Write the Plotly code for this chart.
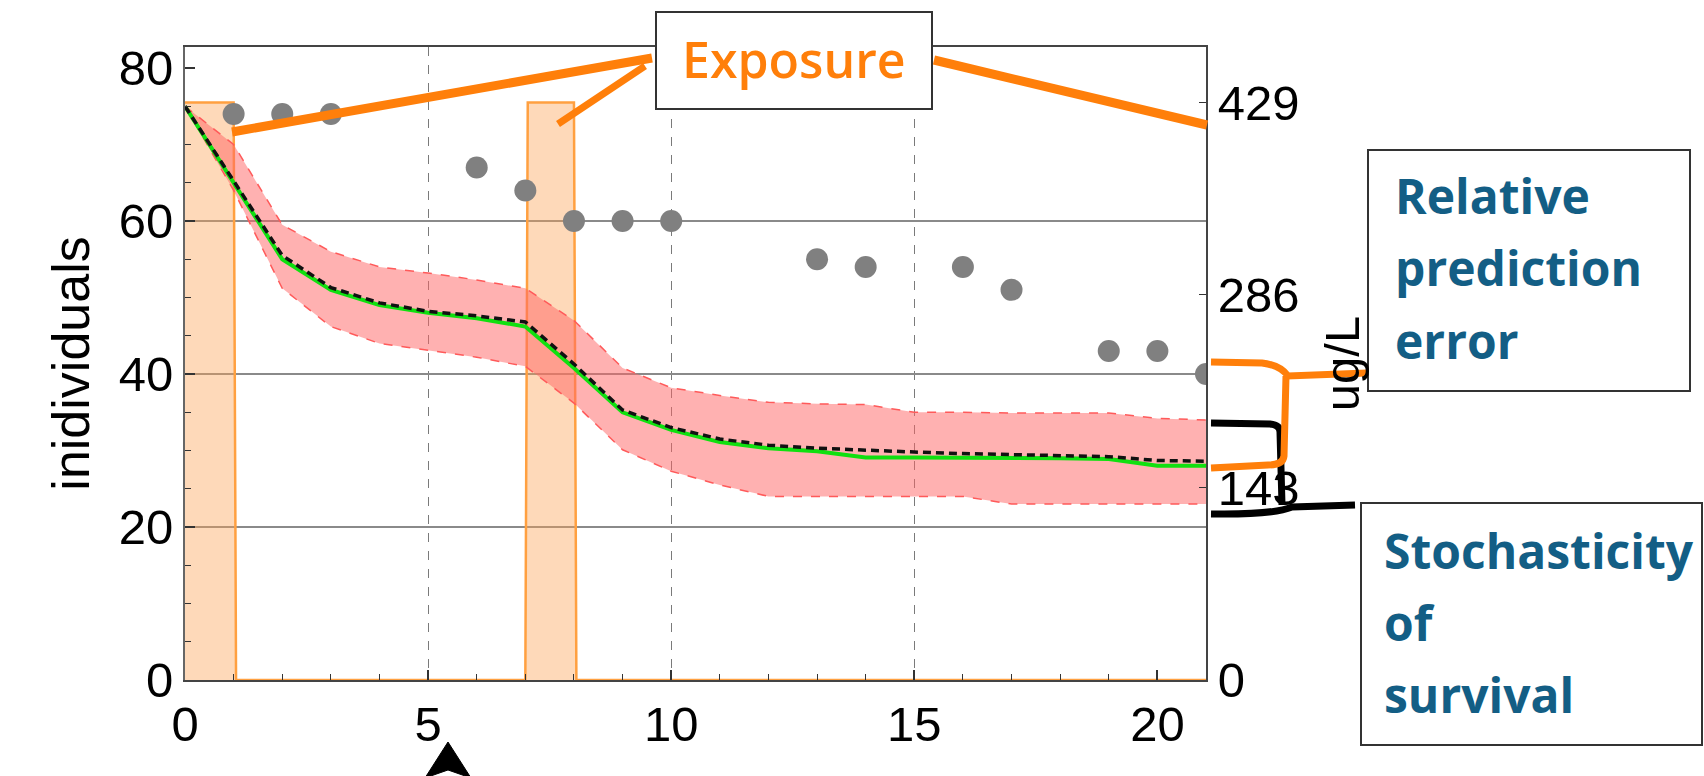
import plotly.graph_objects as go

# ---------------- data ----------------
days = list(range(22))
obs_days = [1, 2, 3, 6, 7, 8, 9, 10, 13, 14, 16, 17, 19, 20, 21]
obs_survivors = [74, 74, 74, 67, 64, 60, 60, 60, 55, 54, 54, 51, 43, 43, 40]

pred_median = [75, 65.0, 55.0, 51.0, 49.0, 48.0, 47.3, 46.2, 40.8, 35.0, 32.7, 31.1,
               30.3, 29.9, 29.1, 29.1, 29.1, 29.0, 29.0, 28.9, 28.0, 28.0]
pred_mean = [75, 65.3, 55.5, 51.3, 49.3, 48.2, 47.6, 46.8, 41.3, 35.3, 33.0, 31.5,
             30.7, 30.3, 30.0, 29.8, 29.6, 29.5, 29.4, 29.2, 28.7, 28.6]
pred_upper = [75, 70.0, 59.5, 56.0, 54.0, 53.2, 52.3, 51.2, 47.0, 40.8, 38.2, 37.2,
              36.3, 36.1, 36.0, 35.0, 35.0, 34.9, 34.9, 34.9, 34.2, 34.0]
pred_lower = [75, 64.0, 51.2, 46.2, 44.0, 43.1, 42.2, 41.0, 36.2, 30.1, 27.3, 25.5,
              24.0, 24.0, 24.0, 24.0, 24.0, 23.0, 23.0, 23.0, 23.0, 23.0]

exp_time = [0, 1.0, 1.05, 7.0, 7.05, 8.0, 8.05, 21]
exp_conc = [429, 429, 0, 0, 429, 429, 0, 0]

conc_ticks = [0, 143, 286, 429]
ind_ticks = [0, 20, 40, 60, 80]
time_ticks = [0, 5, 10, 15, 20]

# ---------------- geometry helpers (pixel -> paper) ----------------
PL, PR, PT, PB = 185, 1206, 47, 680
PW, PH = PR - PL, PB - PT


def px(X):
    return (X - PL) / PW


def py(Y):
    return (PB - Y) / PH


def path(cmds):
    out = []
    for c in cmds:
        op, pts = c[0], c[1:]
        coords = []
        for i in range(0, len(pts), 2):
            coords.append(f"{px(pts[i]):.5f},{py(pts[i + 1]):.5f}")
        out.append(op + " " + " ".join(coords))
    return " ".join(out)


ORANGE = "#ff7f0a"
TEAL = "#135e85"
TICKFONT = dict(family="Liberation Sans, Arial, sans-serif", size=49, color="black")
TITLEFONT = dict(family="Liberation Sans, Arial, sans-serif", size=52, color="black")

fig = go.Figure()

# exposure (concentration axis, drawn underneath)
fig.add_trace(go.Scatter(
    x=exp_time, y=exp_conc, mode="lines", xaxis="x", yaxis="y",
    line=dict(color="#ffa040", width=2.5), fill="tozeroy",
    fillcolor="rgba(253,160,80,0.40)", hoverinfo="skip"))

# grid helper axes (empty trace)
fig.add_trace(go.Scatter(x=[None], y=[None], xaxis="x2", yaxis="y3",
                         hoverinfo="skip", showlegend=False))

# prediction band
fig.add_trace(go.Scatter(
    x=days, y=pred_upper, mode="lines", xaxis="x", yaxis="y2",
    line=dict(color="#ff5a5a", width=1.5, dash="dash"), hoverinfo="skip"))
fig.add_trace(go.Scatter(
    x=days, y=pred_lower, mode="lines", xaxis="x", yaxis="y2",
    line=dict(color="#ff5a5a", width=1.5, dash="dash"), fill="tonexty",
    fillcolor="rgba(255,100,100,0.5)", hoverinfo="skip"))

# median (green) and mean (black dashed)
fig.add_trace(go.Scatter(
    x=days, y=pred_median, mode="lines", xaxis="x", yaxis="y2",
    line=dict(color="#10e010", width=4)))
fig.add_trace(go.Scatter(
    x=days, y=pred_mean, mode="lines", xaxis="x", yaxis="y2",
    line=dict(color="#111111", width=3.5, dash="8px,5px")))

# observed survivors
fig.add_trace(go.Scatter(
    x=obs_days, y=obs_survivors, mode="markers", xaxis="x", yaxis="y2",
    marker=dict(color="#808080", size=22, line=dict(width=0)),
    cliponaxis=True))

AXLINE = "#444444"
fig.update_layout(
    width=1704, height=776,
    margin=dict(l=PL, r=1704 - PR, t=PT, b=776 - PB),
    plot_bgcolor="white", paper_bgcolor="white", showlegend=False,
    xaxis=dict(range=[0, 21], tickmode="array", tickvals=time_ticks,
               ticks="inside", ticklen=10, tickwidth=1.5, tickcolor="#333",
               minor=dict(tick0=0, dtick=1, ticks="inside", ticklen=6,
                          tickwidth=1.2, tickcolor="#333", showgrid=False),
               showgrid=False, zeroline=False, showline=True, linecolor=AXLINE,
               linewidth=2, mirror=True, tickfont=TICKFONT),
    xaxis2=dict(overlaying="x", range=[0, 21], tickmode="array", tickvals=[5, 10, 15],
                showgrid=True, griddash="dash", gridcolor="#7a7a7a", gridwidth=1.3,
                showticklabels=False, ticks="", showline=False, zeroline=False),
    yaxis=dict(range=[0, 470.2], side="right", tickmode="array", tickvals=conc_ticks,
               ticks="inside", ticklen=7, tickwidth=1.2, tickcolor="#333",
               showgrid=False, zeroline=False, showline=True, linecolor=AXLINE,
               linewidth=2, tickfont=TICKFONT,
               title=dict(text="ug/L", font=TICKFONT, standoff=26)),
    yaxis2=dict(overlaying="y", side="left", range=[0, 82.75], tickmode="array",
                tickvals=ind_ticks, ticks="inside", ticklen=10, tickwidth=1.5,
                tickcolor="#333",
                minor=dict(tick0=0, dtick=5, ticks="inside", ticklen=6,
                           tickwidth=1.2, tickcolor="#333", showgrid=False),
                showgrid=False, zeroline=False, showline=True, linecolor="#666",
                linewidth=2, tickfont=TICKFONT,
                title=dict(text="inidividuals", font=TITLEFONT, standoff=12)),
    yaxis3=dict(overlaying="y", range=[0, 82.75], tickmode="array", tickvals=[20, 40, 60],
                showgrid=True, gridcolor="#8a8a8a", gridwidth=1.5,
                showticklabels=False, ticks="", showline=False, zeroline=False),
)

shapes = []
# callout lines from Exposure box
for cmds, w in [
    ([("M", 652, 58), ("L", 232, 132)], 9),
    ([("M", 645, 66), ("L", 558, 124)], 7),
    ([("M", 934, 60), ("L", 1207, 125)], 9),
]:
    shapes.append(dict(type="path", xref="paper", yref="paper", path=path(cmds),
                       line=dict(color=ORANGE, width=w), layer="above"))

# black bracket (stochasticity)
shapes.append(dict(type="path", xref="paper", yref="paper",
                   path=path([("M", 1211, 423), ("L", 1270, 424), ("Q", 1280, 425, 1280, 432),
                              ("L", 1282, 505)]),
                   line=dict(color="black", width=7), layer="above"))
shapes.append(dict(type="path", xref="paper", yref="paper",
                   path=path([("M", 1211, 514), ("Q", 1272, 515, 1292, 507), ("L", 1355, 505)]),
                   line=dict(color="black", width=7), layer="above"))
# orange bracket (relative prediction error)
shapes.append(dict(type="path", xref="paper", yref="paper",
                   path=path([("M", 1211, 362), ("L", 1262, 363), ("Q", 1280, 365, 1288, 376),
                              ("L", 1367, 373)]),
                   line=dict(color=ORANGE, width=7), layer="above"))
shapes.append(dict(type="path", xref="paper", yref="paper",
                   path=path([("M", 1286, 376), ("L", 1284, 456), ("Q", 1283, 465, 1268, 465),
                              ("L", 1211, 468)]),
                   line=dict(color=ORANGE, width=7), layer="above"))

# boxes
for (x0, y0, x1, y1) in [(656, 12, 932, 109), (1368, 150, 1690, 391), (1361, 503, 1702, 745)]:
    shapes.append(dict(type="rect", xref="paper", yref="paper",
                       x0=px(x0), x1=px(x1), y0=py(y1), y1=py(y0),
                       line=dict(color="#333333", width=2), fillcolor="white", layer="above"))

# arrow at bottom
shapes.append(dict(type="path", xref="paper", yref="paper",
                   path=path([("M", 448, 742), ("L", 425, 778), ("L", 448, 770), ("L", 471, 778)]) + " Z",
                   line=dict(color="black", width=1), fillcolor="black", layer="above"))

fig.update_layout(shapes=shapes)

annotations = [
    dict(text="Exposure", x=px(794), y=py(59), font=dict(family="Open Sans", size=50,
         color=ORANGE, weight=600), xanchor="center", yanchor="middle"),
]
BOXFONT = dict(family="Open Sans", size=48, color=TEAL, weight=700)
for txt, X, base in [("Relative", 1393, 213), ("prediction", 1393, 285), ("error", 1393, 358),
                     ("Stochasticity", 1382, 568), ("of", 1382, 640), ("survival", 1382, 712)]:
    annotations.append(dict(text=txt, x=px(X), y=py(base - 18), font=BOXFONT,
                            xanchor="left", yanchor="middle"))
for a in annotations:
    a.update(xref="paper", yref="paper", showarrow=False)
fig.update_layout(annotations=annotations)

fig.write_html("out.html")
